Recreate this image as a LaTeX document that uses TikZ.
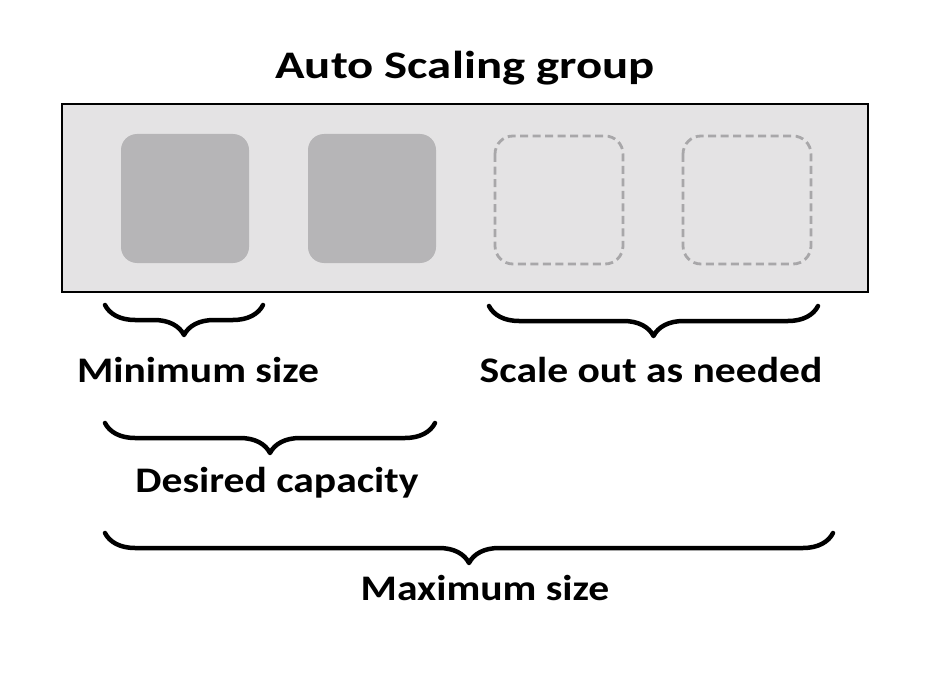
\documentclass[tikz,border=0pt]{standalone}
\usepackage{fontspec}
\setmainfont{Carlito}
\usetikzlibrary{decorations.pathreplacing}
\definecolor{groupfill}{HTML}{E4E3E4}
\definecolor{instfill}{HTML}{B6B5B7}
\definecolor{dashgray}{HTML}{A8A7A9}
\newcommand{\lbltext}[1]{\scalebox{1.155}[1]{#1}}
\newcommand{\ttltext}[1]{\scalebox{1.25}[1]{#1}}
\tikzset{
  inst/.style={draw=none,fill=instfill,rounded corners=16pt},
  pending/.style={draw=dashgray,line width=2.8pt,dash pattern=on 8pt off 4.5pt,rounded corners=18pt},
  bracedeco/.style={decorate,decoration={brace,mirror,amplitude=30pt},line width=4.5pt,line cap=round,line join=round},
  lbl/.style={font=\bfseries\fontsize{36}{42}\selectfont,inner sep=0pt,anchor=base}
}
\begin{document}
\begin{tikzpicture}[x=1pt,y=-1pt]
\useasboundingbox (0,0) rectangle (945,674);
\fill[white] (0,0) rectangle (945,674);
\node[font=\bfseries\fontsize{39}{46}\selectfont,inner sep=0pt,anchor=base] (title) at (465,79) {\ttltext{Auto Scaling group}};
\draw[fill=groupfill,line width=2.2pt] (62,104) rectangle (868,292);
\fill[inst] (121,134) rectangle (249,263);
\fill[inst] (308,134) rectangle (436,263);
\draw[pending] (495,136) rectangle (623,264);
\draw[pending] (683,136) rectangle (811,264);
\coordinate (mina) at (105,305);
\coordinate (minb) at (263,305);
\coordinate (desa) at (105,423);
\coordinate (desb) at (435,423);
\coordinate (scaa) at (489,306);
\coordinate (scab) at (818,306);
\coordinate (maxa) at (105,533);
\coordinate (maxb) at (833,533);
\draw[bracedeco] (mina) -- (minb);
\draw[bracedeco] (desa) -- (desb);
\draw[bracedeco] (scaa) -- (scab);
\draw[bracedeco] (maxa) -- (maxb);
\node[lbl] (minl) at (198,382) {\lbltext{Minimum size}};
\node[lbl] (desl) at (277,492) {\lbltext{Desired capacity}};
\node[lbl] (scal) at (651,382) {\lbltext{Scale out as needed}};
\node[lbl] (maxl) at (485,600) {\lbltext{Maximum size}};
\end{tikzpicture}
\end{document}
